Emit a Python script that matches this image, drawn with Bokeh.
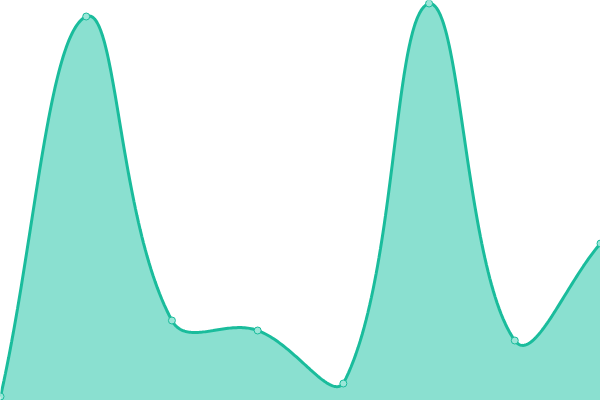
import numpy as np
from bokeh.plotting import figure
from bokeh.models import Range1d
from bokeh.embed import file_html
from bokeh.resources import INLINE

# data
x_vals = [0, 1, 2, 3, 4, 5, 6, 7]
y_vals = [1.0, 96.0, 20.0, 17.5, 4.25, 99.25, 15.0, 39.25]

LINE = "#1abc9c"
FILL = "#8ae0d0"
W, H = 600, 400
X0, X1 = 0, 7
Y0, Y1 = 0, 100
TENSION = 0.4


def spline_curve(xs, ys, tension=TENSION, n=60):
    # Chart.js-style spline: control points weighted by pixel distances
    sx = W / (X1 - X0)
    sy = H / (Y1 - Y0)
    px = np.asarray(xs, float) * sx
    py = np.asarray(ys, float) * sy
    m = len(px)
    cps = []
    for i in range(m):
        pi = max(i - 1, 0)
        ni = min(i + 1, m - 1)
        d01 = np.hypot(px[i] - px[pi], py[i] - py[pi])
        d12 = np.hypot(px[ni] - px[i], py[ni] - py[i])
        tot = d01 + d12
        s01 = d01 / tot if tot else 0
        s12 = d12 / tot if tot else 0
        fa = tension * s01
        fb = tension * s12
        dx = px[ni] - px[pi]
        dy = py[ni] - py[pi]
        prev_cp = (px[i] - fa * dx, py[i] - fa * dy)
        next_cp = (px[i] + fb * dx, py[i] + fb * dy)
        # cap to chart area
        prev_cp = (min(max(prev_cp[0], 0), W), min(max(prev_cp[1], 0), H))
        next_cp = (min(max(next_cp[0], 0), W), min(max(next_cp[1], 0), H))
        cps.append((prev_cp, next_cp))
    t = np.linspace(0, 1, n, endpoint=False)
    ox, oy = [], []
    for i in range(m - 1):
        x1, y1 = px[i], py[i]
        x2, y2 = px[i + 1], py[i + 1]
        c1x, c1y = cps[i][1]
        c2x, c2y = cps[i + 1][0]
        bx = (1 - t) ** 3 * x1 + 3 * (1 - t) ** 2 * t * c1x + 3 * (1 - t) * t ** 2 * c2x + t ** 3 * x2
        by = (1 - t) ** 3 * y1 + 3 * (1 - t) ** 2 * t * c1y + 3 * (1 - t) * t ** 2 * c2y + t ** 3 * y2
        ox.extend(bx)
        oy.extend(by)
    ox.append(px[-1])
    oy.append(py[-1])
    return np.array(ox) / sx, np.array(oy) / sy


cx, cy = spline_curve(x_vals, y_vals)

p = figure(width=W, height=H, output_backend="svg", toolbar_location=None,
           x_range=Range1d(X0, X1), y_range=Range1d(Y0, Y1), min_border=0)
p.axis.visible = False
p.grid.visible = False
p.outline_line_color = None
p.background_fill_color = "white"
p.border_fill_color = "white"

p.varea(x=cx, y1=0, y2=cy, fill_color=FILL, fill_alpha=1.0)
p.line(cx, cy, line_color=LINE, line_width=3)
p.scatter(x_vals, y_vals, size=7, fill_color="#9be6d8", line_color=LINE, line_width=1)

open("out.html", "w").write(file_html(p, INLINE))
